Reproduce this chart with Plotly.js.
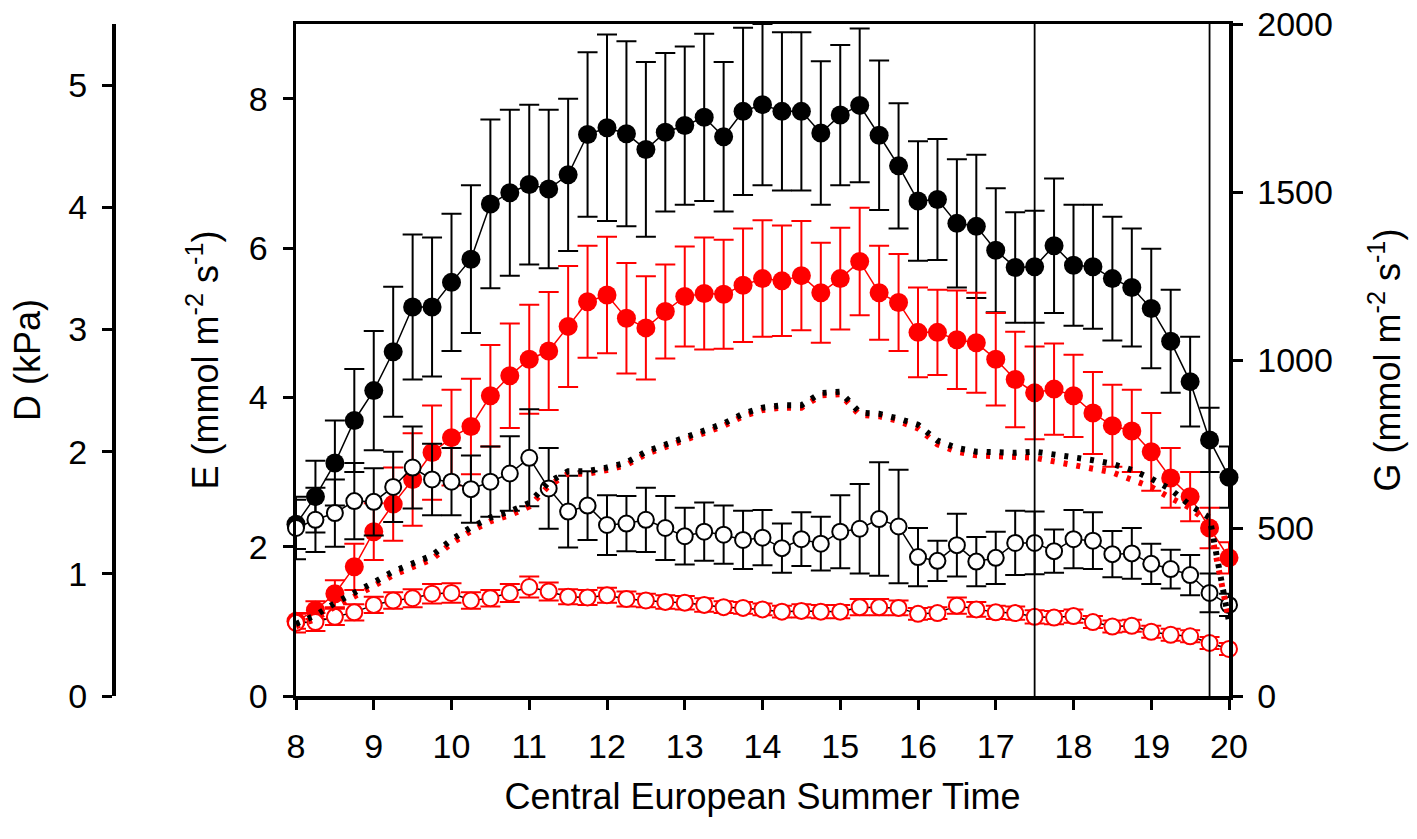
<!DOCTYPE html>
<html>
<head>
<meta charset="utf-8">
<script src="https://cdn.plot.ly/plotly-3.0.1.min.js"></script>
<style>
  html, body { margin: 0; padding: 0; background: #fff; }
  #chart { width: 1417px; height: 839px; }
</style>
</head>
<body>
<div id="chart"></div>
<script>
// -----------------------
// Data (15-min steps)
// -----------------------
const times = [8, 8.25, 8.5, 8.75, 9, 9.25, 9.5, 9.75, 10, 10.25, 10.5, 10.75,
  11, 11.25, 11.5, 11.75, 12, 12.25, 12.5, 12.75, 13, 13.25, 13.5, 13.75,
  14, 14.25, 14.5, 14.75, 15, 15.25, 15.5, 15.75, 16, 16.25, 16.5, 16.75,
  17, 17.25, 17.5, 17.75, 18, 18.25, 18.5, 18.75, 19, 19.25, 19.5, 19.75, 20];

const hourTicks = [8, 9, 10, 11, 12, 13, 14, 15, 16, 17, 18, 19, 20];
const eTicks = [0, 2, 4, 6, 8];
const gTicks = [0, 500, 1000, 1500, 2000];
const dTicks = [0, 1, 2, 3, 4, 5];
const markTimes = [17.5, 19.75];

// black filled circles (E axis units)
const blackFilled = [2.30, 2.67, 3.12, 3.69, 4.09, 4.61, 5.21, 5.21, 5.54, 5.85, 6.59, 6.74,
  6.85, 6.79, 6.98, 7.52, 7.61, 7.53, 7.32, 7.55, 7.64, 7.75, 7.49, 7.83,
  7.92, 7.83, 7.83, 7.54, 7.78, 7.91, 7.51, 7.10, 6.63, 6.65, 6.33, 6.29,
  5.97, 5.74, 5.75, 6.03, 5.77, 5.75, 5.59, 5.47, 5.19, 4.75, 4.21, 3.43, 2.93];
const blackFilledErr = [0.33, 0.48, 0.57, 0.69, 0.80, 0.87, 0.97, 0.93, 0.92, 0.99, 1.13, 1.11,
  1.07, 1.06, 1.02, 1.10, 1.25, 1.24, 1.17, 1.06, 1.06, 1.12, 1.00, 1.12,
  1.08, 1.06, 1.06, 0.96, 0.94, 1.03, 1.00, 0.84, 0.80, 0.81, 0.86, 0.96,
  0.83, 0.74, 0.75, 0.90, 0.81, 0.83, 0.83, 0.79, 0.80, 0.69, 0.60, 0.43, 0.41];

// red filled circles
const redFilled = [1.00, 1.15, 1.37, 1.73, 2.20, 2.57, 2.90, 3.26, 3.46, 3.61, 4.02, 4.29,
  4.51, 4.62, 4.95, 5.28, 5.37, 5.06, 4.93, 5.15, 5.35, 5.39, 5.38, 5.50,
  5.59, 5.56, 5.63, 5.40, 5.59, 5.82, 5.40, 5.27, 4.87, 4.87, 4.77, 4.73,
  4.51, 4.24, 4.06, 4.11, 4.02, 3.79, 3.62, 3.55, 3.27, 2.92, 2.67, 2.25, 1.85];
const redFilledErr = [0.10, 0.12, 0.18, 0.31, 0.38, 0.49, 0.62, 0.63, 0.64, 0.64, 0.68, 0.70,
  0.73, 0.79, 0.81, 0.75, 0.78, 0.74, 0.69, 0.63, 0.67, 0.75, 0.73, 0.76,
  0.78, 0.74, 0.73, 0.67, 0.68, 0.72, 0.63, 0.65, 0.60, 0.57, 0.66, 0.67,
  0.62, 0.64, 0.62, 0.61, 0.55, 0.55, 0.55, 0.55, 0.52, 0.40, 0.33, 0.27, 0.21];

// black open circles
const blackOpen = [2.25, 2.36, 2.45, 2.61, 2.60, 2.80, 3.06, 2.90, 2.87, 2.77, 2.87, 2.98,
  3.19, 2.78, 2.47, 2.55, 2.29, 2.31, 2.36, 2.25, 2.14, 2.20, 2.16, 2.09,
  2.12, 1.98, 2.10, 2.04, 2.20, 2.24, 2.37, 2.27, 1.86, 1.81, 2.02, 1.80,
  1.85, 2.05, 2.05, 1.94, 2.10, 2.08, 1.90, 1.91, 1.77, 1.70, 1.62, 1.38, 1.22];
const blackOpenErr = [0.42, 0.43, 0.45, 0.51, 0.45, 0.47, 0.55, 0.48, 0.45, 0.45, 0.47, 0.50,
  0.65, 0.54, 0.48, 0.46, 0.40, 0.37, 0.43, 0.43, 0.38, 0.39, 0.39, 0.39,
  0.37, 0.33, 0.36, 0.36, 0.49, 0.60, 0.76, 0.76, 0.39, 0.27, 0.42, 0.33,
  0.35, 0.43, 0.42, 0.29, 0.39, 0.38, 0.31, 0.34, 0.27, 0.26, 0.27, 0.26, 0.15];

// red open circles
const redOpen = [0.98, 0.99, 1.06, 1.12, 1.22, 1.28, 1.31, 1.37, 1.38, 1.28, 1.31, 1.38,
  1.46, 1.40, 1.33, 1.32, 1.35, 1.30, 1.28, 1.26, 1.25, 1.22, 1.19, 1.18,
  1.16, 1.13, 1.14, 1.13, 1.13, 1.19, 1.19, 1.18, 1.10, 1.11, 1.21, 1.16,
  1.12, 1.11, 1.06, 1.05, 1.07, 0.99, 0.93, 0.94, 0.86, 0.82, 0.80, 0.71, 0.63];
const redOpenErr = [0.13, 0.12, 0.11, 0.11, 0.11, 0.11, 0.12, 0.13, 0.13, 0.11, 0.11, 0.12,
  0.14, 0.12, 0.10, 0.10, 0.10, 0.10, 0.09, 0.09, 0.09, 0.09, 0.08, 0.08,
  0.08, 0.08, 0.09, 0.09, 0.09, 0.11, 0.11, 0.10, 0.08, 0.08, 0.11, 0.10,
  0.09, 0.09, 0.09, 0.09, 0.09, 0.08, 0.08, 0.08, 0.08, 0.08, 0.08, 0.08, 0.08];

// D (kPa), dotted lines
const blackD = [0.59, 0.66, 0.76, 0.84, 0.93, 1.02, 1.08, 1.15, 1.28, 1.38, 1.46, 1.51,
  1.58, 1.75, 1.84, 1.84, 1.87, 1.91, 2.00, 2.06, 2.12, 2.17, 2.23, 2.31,
  2.36, 2.38, 2.38, 2.48, 2.49, 2.32, 2.31, 2.27, 2.22, 2.09, 2.03, 2.00,
  1.99, 1.99, 2.00, 1.98, 1.96, 1.93, 1.90, 1.85, 1.78, 1.69, 1.56, 1.46, 0.61];
const redD = [0.57, 0.63, 0.73, 0.81, 0.90, 0.99, 1.05, 1.12, 1.25, 1.35, 1.43, 1.48,
  1.55, 1.72, 1.82, 1.82, 1.85, 1.89, 1.98, 2.04, 2.10, 2.15, 2.21, 2.29,
  2.34, 2.36, 2.36, 2.46, 2.47, 2.30, 2.29, 2.25, 2.19, 2.06, 2.00, 1.97,
  1.96, 1.96, 1.95, 1.92, 1.89, 1.86, 1.83, 1.77, 1.71, 1.62, 1.54, 1.41, 0.62];

// -----------------------
// Traces
// -----------------------
const TICKFONT = { family: "Liberation Sans, Arial, sans-serif", size: 34, color: "#000" };
const TITLEFONT = { family: "Liberation Sans, Arial, sans-serif", size: 36, color: "#000" };

function circleTrace(y, err, color, filled, lineColor) {
  return {
    x: times, y: y, yaxis: "y", type: "scatter", mode: "lines+markers",
    cliponaxis: false, showlegend: false, hoverinfo: "skip",
    line: { color: lineColor, width: 1.5 },
    marker: filled
      ? { symbol: "circle", size: 19, color: color, line: { width: 0 } }
      : { symbol: "circle", size: 16, color: "#fff", line: { color: color, width: 2 } },
    error_y: { type: "data", array: err, visible: true, color: color, thickness: 2, width: 10 }
  };
}

function dottedTrace(y, color) {
  return {
    x: times, y: y, yaxis: "y3", type: "scatter", mode: "lines",
    cliponaxis: false, showlegend: false, hoverinfo: "skip",
    line: { color: color, width: 6, dash: "4px,9px" }
  };
}

// empty carrier so the G axis (right) gets drawn
const gCarrier = {
  x: times, y: times.map(() => null), yaxis: "y2", type: "scatter", mode: "lines",
  showlegend: false, hoverinfo: "skip", line: { width: 0 }
};

const data = [
  gCarrier,
  circleTrace(blackFilled, blackFilledErr, "#000", true, "#000"),
  circleTrace(redFilled, redFilledErr, "#ff0000", true, "#ff0000"),
  circleTrace(blackOpen, blackOpenErr, "#000", false, "#000"),
  circleTrace(redOpen, redOpenErr, "#ff0000", false, "#000"),
  dottedTrace(redD, "#ff0000"),
  dottedTrace(blackD, "#000")
];

const shapes = markTimes.map(t => ({
  type: "line", xref: "x", yref: "paper", x0: t, x1: t, y0: 0, y1: 1,
  line: { color: "#000", width: 1.8 }
}));

const axisBase = {
  showgrid: false, zeroline: false, showline: true, linecolor: "#000", linewidth: 3.5,
  ticks: "outside", ticklen: 10, tickwidth: 3, tickcolor: "#000",
  tickfont: TICKFONT, ticklabelstandoff: 8
};

const layout = {
  width: 1417, height: 839,
  margin: { l: 0, r: 0, t: 24, b: 143 },
  paper_bgcolor: "#fff", plot_bgcolor: "#fff",
  font: TICKFONT,
  showlegend: false,
  xaxis: Object.assign({}, axisBase, {
    domain: [296 / 1417, 1229 / 1417],
    range: [8, 20], tickvals: hourTicks, mirror: true,
    title: { text: "Central European Summer Time", font: TITLEFONT, standoff: 20 }
  }),
  yaxis: Object.assign({}, axisBase, {
    range: [0, 9], tickvals: eTicks,
    title: { text: "E (mmol m<sup>-2</sup> s<sup>-1</sup>)", font: TITLEFONT, standoff: 20 }
  }),
  yaxis2: Object.assign({}, axisBase, {
    overlaying: "y", side: "right", anchor: "x",
    range: [0, 2000], tickvals: gTicks,
    title: { text: "G (mmol m<sup>-2</sup> s<sup>-1</sup>)", font: TITLEFONT, standoff: 44 }
  }),
  yaxis3: Object.assign({}, axisBase, {
    overlaying: "y", side: "left", anchor: "free", position: 113 / 1417,
    range: [0, 5.5], tickvals: dTicks,
    title: { text: "D (kPa)", font: TITLEFONT, standoff: 15 }
  }),
  shapes: shapes
};

Plotly.newPlot("chart", data, layout, { staticPlot: true, displayModeBar: false });
</script>
</body>
</html>
